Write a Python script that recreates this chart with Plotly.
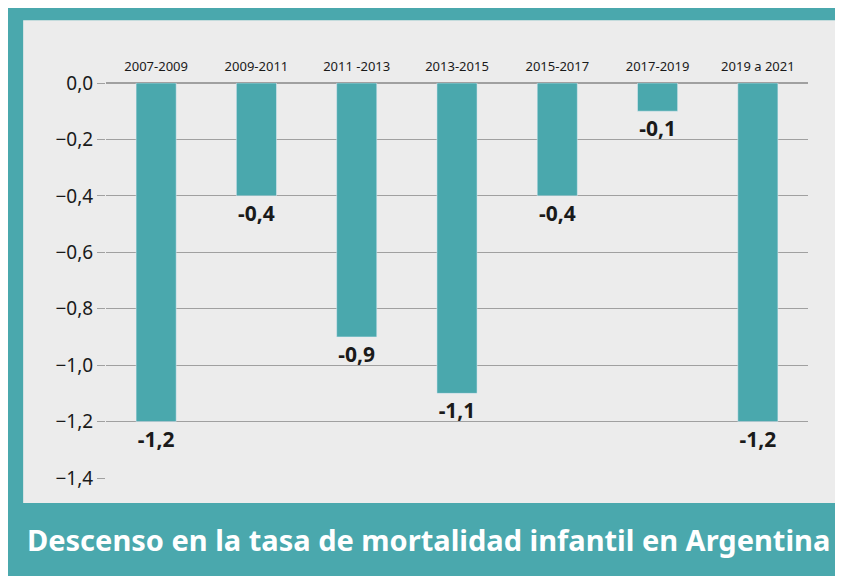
import plotly.graph_objects as go

periods = ["2007-2009", "2009-2011", "2011 -2013", "2013-2015", "2015-2017", "2017-2019", "2019 a 2021"]
values = [-1.2, -0.4, -0.9, -1.1, -0.4, -0.1, -1.2]
labels = ["-1,2", "-0,4", "-0,9", "-1,1", "-0,4", "-0,1", "-1,2"]

teal = "#4aa8ad"
panel = "#ececec"

fig = go.Figure(go.Bar(
    x=periods, y=values, width=0.4,
    marker_color=teal,
    text=labels, textposition="outside", cliponaxis=False,
    textfont=dict(family="Noto Sans", size=21, color="#1a1a1a", weight="bold"),
))

# light panel behind the plot
fig.add_shape(type="rect", xref="paper", yref="paper",
              x0=-0.118, x1=1.040, y0=-0.063, y1=1.159,
              fillcolor=panel, line_width=0, layer="below")

fig.add_annotation(text="<b>Descenso en la tasa de mortalidad infantil en Argentina</b>",
                   xref="paper", yref="paper", x=0.46, y=-0.155, xanchor="center", yanchor="middle",
                   showarrow=False, font=dict(family="Noto Sans", size=29, color="white"))

fig.update_layout(
    width=843, height=576,
    margin=dict(l=98, r=43, t=75, b=106, autoexpand=False),
    paper_bgcolor=teal, plot_bgcolor=panel,
    separators=",.",
    showlegend=False, bargap=0.6,
    font=dict(family="Noto Sans", color="#1a1a1a"),
)
fig.update_xaxes(side="top", tickfont=dict(size=13), showgrid=False, ticks="",
                 automargin=False, ticklabelstandoff=8)
fig.update_yaxes(range=[-1.4, 0], dtick=0.2, tickformat=".1f", automargin=False,
                 showgrid=True, gridcolor="#a0a0a0", gridwidth=1,
                 ticks="outside", ticklen=8, tickcolor="#a0a0a0",
                 tickfont=dict(size=19), zeroline=True, zerolinecolor="#a0a0a0")

fig.write_html("out.html")
